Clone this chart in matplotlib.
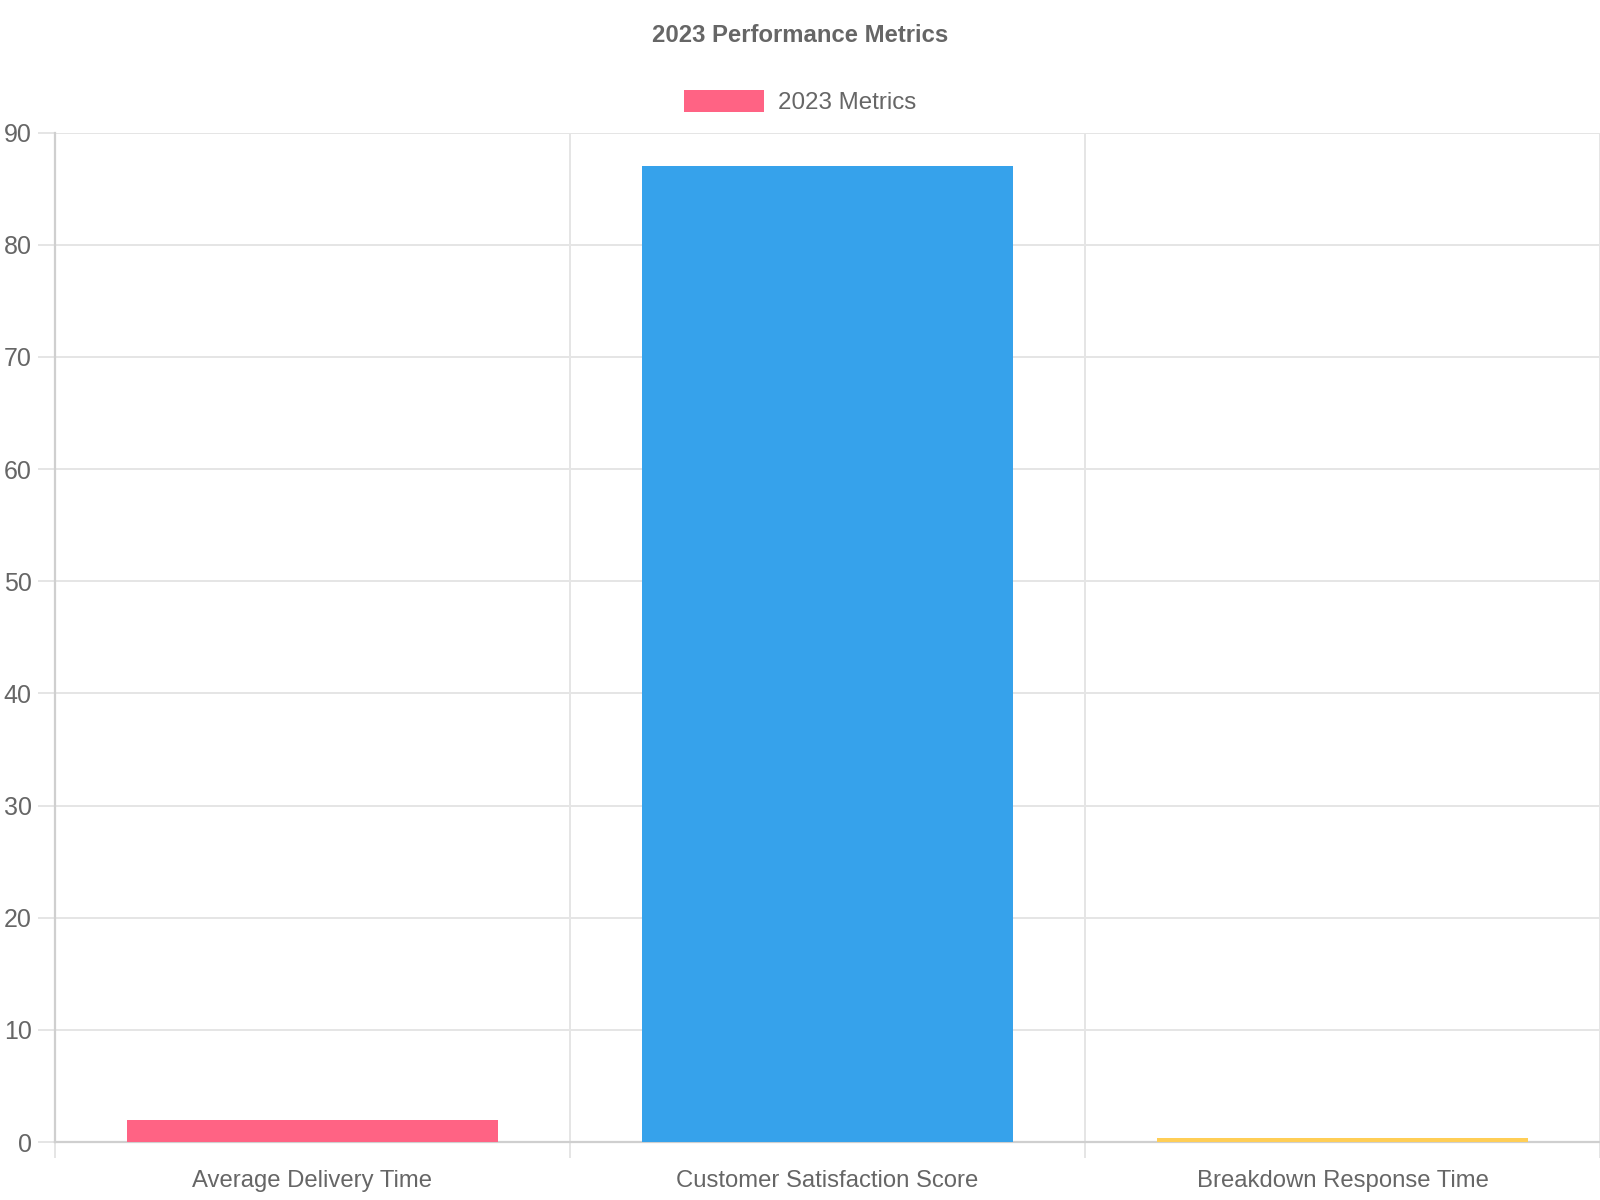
import numpy as np
import matplotlib.pyplot as plt
from matplotlib.ticker import MultipleLocator, FixedLocator

plt.rcParams['font.family'] = ['Liberation Sans', 'DejaVu Sans']

# data
categories = ['Average Delivery Time', 'Customer Satisfaction Score', 'Breakdown Response Time']
values = [2, 87, 0.4]
colors = ['#FF6384', '#36A2EB', '#FFCE56']
series_name = '2023 Metrics'
title = '2023 Performance Metrics'

txt = '#666666'
grid_c = '#e5e5e5'
axis_c = '#cfcfcf'

fig = plt.figure(figsize=(16, 12), dpi=100)
ax = fig.add_axes([55/1600, 1 - 1142/1200, 1 - 55/1600, (1142 - 132.7)/1200])

x = np.arange(len(categories))
bars = ax.bar(x, values, width=0.72, color=colors, label=series_name, zorder=3)

ax.set_xlim(-0.5, len(categories) - 0.5)
ax.set_ylim(0, 90)

# y axis
ax.yaxis.set_major_locator(MultipleLocator(10))
ax.tick_params(axis='y', length=12.2, width=1.4, color=grid_c, pad=4.5,
               labelsize=18, labelcolor=txt)

# x axis: labels at centres, ticks + grid at boundaries
ax.set_xticks(x)
ax.set_xticklabels(categories)
ax.xaxis.set_minor_locator(FixedLocator(np.arange(-0.5, len(categories), 1.0)))
ax.tick_params(axis='x', which='major', length=0, pad=20.5, labelsize=17.2, labelcolor=txt)
ax.tick_params(axis='x', which='minor', length=11.5, width=1.4, color=grid_c)

ax.grid(True, axis='y', which='major', color=grid_c, linewidth=1.4, zorder=0)
ax.grid(True, axis='x', which='minor', color=grid_c, linewidth=1.4, zorder=0)
ax.set_axisbelow(True)

for s in ['top', 'right']:
    ax.spines[s].set_visible(False)
for s in ['left', 'bottom']:
    ax.spines[s].set_color(axis_c)
    ax.spines[s].set_linewidth(1.6)

fig.text(0.5, 1 - 35/1200, title, ha='center', va='center',
         fontsize=17.2, fontweight='bold', color=txt)

leg = fig.legend(handles=[bars[0]], labels=[series_name], loc='center',
                 bbox_to_anchor=(0.5, 1 - 102/1200), frameon=False,
                 fontsize=17.4, handlelength=3.3, handleheight=1.0,
                 handletextpad=0.6, borderpad=0)
for t in leg.get_texts():
    t.set_color(txt)

fig.savefig('out.png', dpi=100)
